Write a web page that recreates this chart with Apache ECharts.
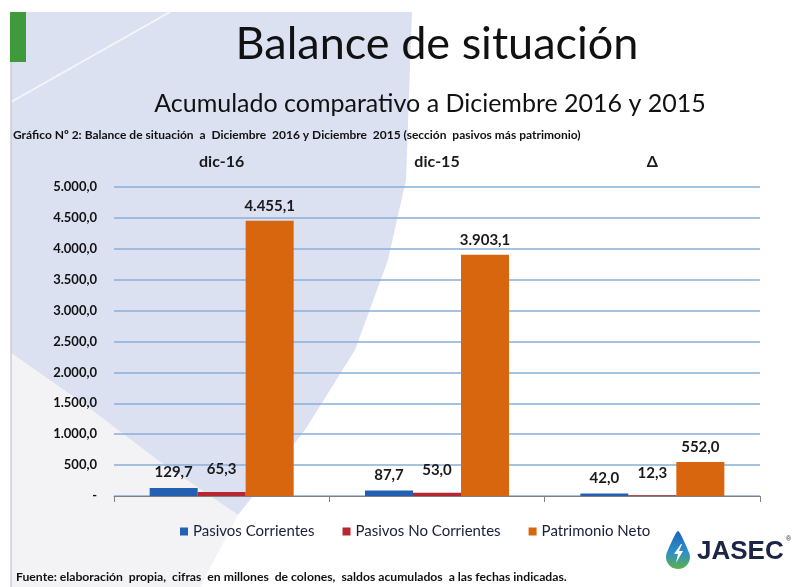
<!DOCTYPE html>
<html>
<head>
<meta charset="utf-8">
<title>Balance de situación</title>
<script src="https://cdn.jsdelivr.net/npm/echarts@6/dist/echarts.min.js"></script>
<style>
  html, body { margin: 0; padding: 0; background: #fff; }
  #chart { width: 793px; height: 587px; }
</style>
</head>
<body>
<div id="chart"></div>
<script>
  // datos del gráfico (millones de colones)
  const categories = ['dic-16', 'dic-15', 'Δ'];
  const seriesNames = ['Pasivos Corrientes', 'Pasivos No Corrientes', 'Patrimonio Neto'];
  const pasivosCorrientes = [129.7, 87.7, 42.0];
  const pasivosNoCorrientes = [65.3, 53.0, 12.3];
  const patrimonioNeto = [4455.1, 3903.1, 552.0];

  const FONT = 'Lato, "Open Sans", sans-serif';

  // 4455.1 -> "4.455,1"
  function fmt(v) {
    const parts = Number(v).toFixed(1).split('.');
    parts[0] = parts[0].replace(/\B(?=(\d{3})+(?!\d))/g, '.');
    return parts.join(',');
  }

  // contorno de la gota del logo (solo decoración)
  function dropPoints(cx, top, r, bottom) {
    const pts = [[cx, top]];
    const cy = bottom - r;
    for (let a = -20; a <= 200; a += 10) {
      const t = a * Math.PI / 180;
      pts.push([cx + r * Math.cos(t), cy + r * Math.sin(t)]);
    }
    return pts;
  }

  const chart = echarts.init(document.getElementById('chart'));

  function barSeries(name, data, color, dist) {
    return {
      name: name,
      type: 'bar',
      xAxisIndex: 0,
      barWidth: 48,
      barGap: '0%',
      data: data,
      itemStyle: { color: color },
      label: {
        show: true,
        position: 'top',
        distance: dist,
        formatter: p => fmt(p.value),
        fontFamily: FONT,
        fontWeight: 'bold',
        fontSize: 15,
        color: '#1a1a1a'
      }
    };
  }

  chart.setOption({
    backgroundColor: '#ffffff',
    title: [
      {
        text: 'Balance de situación',
        left: 432, top: 17, textAlign: 'center',
        textStyle: { fontFamily: FONT, fontWeight: 'normal', fontSize: 45, color: '#111' }
      },
      {
        text: 'Acumulado comparativo a Diciembre 2016 y 2015',
        left: 425, top: 86, textAlign: 'center',
        textStyle: { fontFamily: FONT, fontWeight: 'normal', fontSize: 25, color: '#111' }
      },
      {
        text: 'Gráfico Nº 2: Balance de situación  a  Diciembre  2016 y Diciembre  2015 (sección  pasivos más patrimonio)',
        left: 8, top: 124,
        textStyle: { fontFamily: FONT, fontWeight: 'bold', fontSize: 12, color: '#111' }
      },
      {
        text: 'Fuente: elaboración  propia,  cifras  en millones  de colones,  saldos acumulados  a las fechas indicadas.',
        left: 11, top: 566,
        textStyle: { fontFamily: FONT, fontWeight: 'bold', fontSize: 12.2, color: '#111' }
      }
    ],
    legend: {
      data: seriesNames,
      left: 175, top: 519,
      icon: 'rect', itemWidth: 8, itemHeight: 8, itemGap: 28,
      textStyle: { fontFamily: FONT, fontSize: 15, color: '#1a1f3a' }
    },
    grid: { left: 114, right: 33, top: 187, bottom: 91 },
    xAxis: [
      {
        type: 'category',
        data: categories,
        position: 'bottom',
        axisLine: { lineStyle: { color: '#808080', width: 1 } },
        axisTick: { show: true, interval: 0, length: 6, lineStyle: { color: '#808080' } },
        axisLabel: { show: false }
      },
      {
        type: 'category',
        data: categories,
        position: 'top',
        axisLine: { show: false },
        axisTick: { show: false },
        axisLabel: {
          margin: 17,
          fontFamily: FONT, fontWeight: 'bold', fontSize: 16, color: '#1a1a1a'
        }
      }
    ],
    yAxis: {
      type: 'value',
      min: 0, max: 5000, interval: 500,
      axisLine: { show: false },
      axisTick: { show: false },
      splitLine: { lineStyle: { color: '#8aaed6', width: 1.5 } },
      axisLabel: {
        margin: 17,
        formatter: v => (v === 0 ? '-' : fmt(v)),
        fontFamily: FONT, fontWeight: 'bold', fontSize: 13, color: '#111'
      }
    },
    series: [
      barSeries(seriesNames[0], pasivosCorrientes, '#2460b2', 8),
      barSeries(seriesNames[1], pasivosNoCorrientes, '#b8262f', 15),
      barSeries(seriesNames[2], patrimonioNeto, '#d8660f', 7)
    ],
    graphic: [
      // fondo decorativo de la diapositiva
      {
        type: 'polygon', z: -10, silent: true,
        shape: { points: [[11, 12], [412, 12], [406, 180], [388, 260], [355, 350], [305, 430], [238, 515], [160, 462], [85, 405], [11, 353]] },
        style: { fill: '#dce1f2' }
      },
      {
        type: 'polygon', z: -10, silent: true,
        shape: { points: [[11, 353], [85, 405], [160, 462], [238, 515], [200, 587], [11, 587]] },
        style: { fill: '#f3f3f6' }
      },
      {
        type: 'line', z: -9, silent: true,
        shape: { x1: 11, y1: 102, x2: 170, y2: 12 },
        style: { stroke: '#f4f6fb', lineWidth: 2 }
      },
      {
        type: 'line', z: -9, silent: true,
        shape: { x1: 11, y1: 12, x2: 11, y2: 587 },
        style: { stroke: '#b8b8c0', lineWidth: 1 }
      },
      {
        type: 'rect', z: -8, silent: true,
        shape: { x: 10, y: 12, width: 16, height: 50 },
        style: { fill: '#3f9a3c' }
      },
      // logo JASEC
      {
        type: 'polygon', silent: true,
        shape: { points: dropPoints(678, 531, 12, 569), smooth: 0.2 },
        style: {
          fill: {
            type: 'linear', x: 0, y: 0, x2: 0, y2: 1,
            colorStops: [
              { offset: 0, color: '#1f64b4' },
              { offset: 0.55, color: '#2d8fc8' },
              { offset: 1, color: '#5cb04a' }
            ]
          }
        }
      },
      {
        type: 'polygon', silent: true,
        shape: { points: [[681, 544], [674, 554], [678, 554], [676, 563], [683, 551], [679, 551], [682, 544]] },
        style: { fill: '#ffffff' }
      },
      {
        type: 'text', silent: true,
        style: {
          x: 697, y: 552, text: 'JASEC', textVerticalAlign: 'middle',
          font: 'bold 26px "Liberation Sans", Arial, sans-serif', fill: '#1b2545'
        }
      },
      {
        type: 'text', silent: true,
        style: {
          x: 786, y: 536, text: '®',
          font: '7px "Liberation Sans", Arial, sans-serif', fill: '#1b2545'
        }
      }
    ]
  });
</script>
</body>
</html>
